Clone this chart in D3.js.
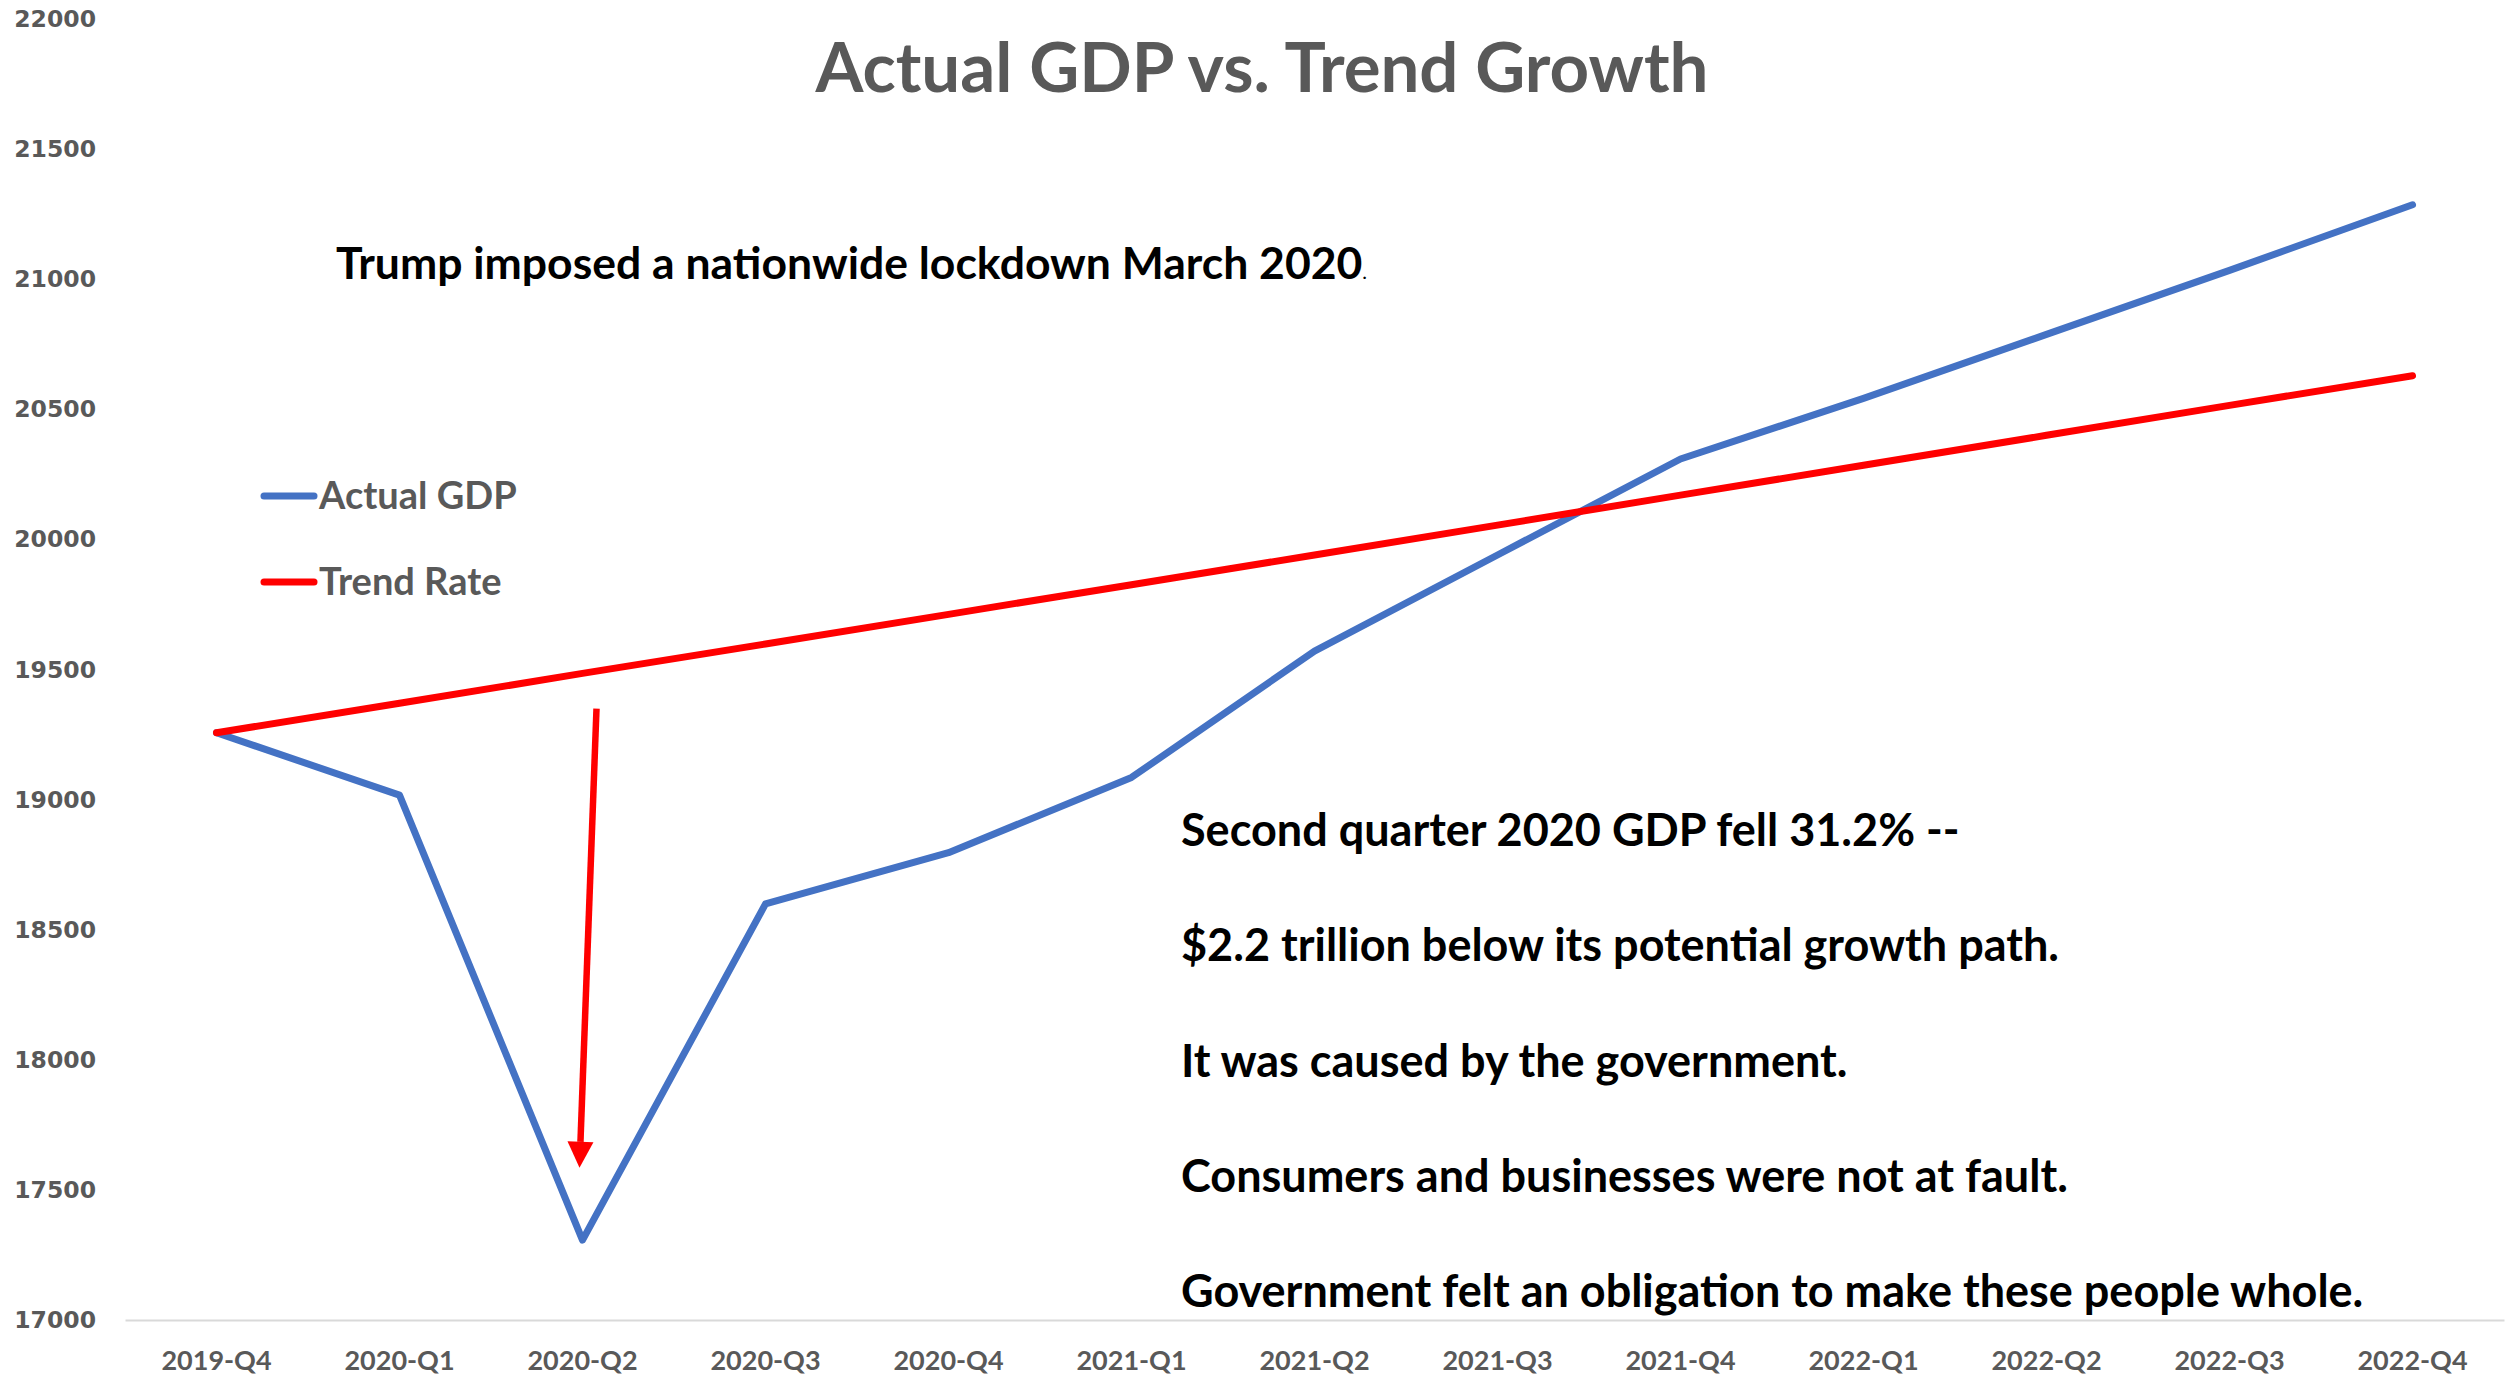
<!DOCTYPE html>
<html><head><meta charset="utf-8">
<script src="https://cdn.jsdelivr.net/npm/d3@7"></script>
<style>html,body{margin:0;padding:0;background:#fff;overflow:hidden}</style>
</head><body>
<svg id="chart" width="2509" height="1382"></svg>
<script>
const quarters = ["2019-Q4","2020-Q1","2020-Q2","2020-Q3","2020-Q4","2021-Q1","2021-Q2","2021-Q3","2021-Q4","2022-Q1","2022-Q2","2022-Q3","2022-Q4"];
const actualGDP = [19257,19017,17307,18599,18796,19085,19571,19940,20309,20542,20788,21034,21286];
const trendRate = [19257,19370,19485,19598,19712,19826,19940,20055,20170,20285,20400,20515,20629];
const yTicks = [17000,17500,18000,18500,19000,19500,20000,20500,21000,21500,22000];
const seriesNames = ["Actual GDP","Trend Rate"];
const seriesColors = ["#4472C4","#FF0000"];
const titleText = "Actual GDP vs. Trend Growth";
const lockdownNote = "Trump imposed a nationwide lockdown March 2020";
const notes = ["Second quarter 2020 GDP fell 31.2% --","$2.2 trillion below its potential growth path.","It was caused by the government.","Consumers and businesses were not at fault.","Government felt an obligation to make these people whole."];
const arrowFrom = 19350, arrowTo = 17585;

const svg = d3.select("#chart");
const FONT = "Lato, 'Open Sans', sans-serif";
const x = d3.scaleBand().domain(quarters).range([125, 2504]);
const y = d3.scaleLinear().domain([17000, 22000]).range([1320, 19]);
const cx = q => x(q) + x.bandwidth() / 2;

// y axis labels
const ya = svg.append("g").attr("transform", "translate(96,0)")
  .call(d3.axisLeft(y).tickValues(yTicks).tickSize(0).tickPadding(0).tickFormat(d3.format("d")));
ya.select(".domain").remove();
ya.selectAll("text").attr("fill", "#595959").style("font-family", "'DejaVu Sans', Verdana, sans-serif")
  .style("font-weight", "bold").style("font-size", "23.5px");

// x axis
const xa = svg.append("g").attr("transform", "translate(0," + y(17000) + ")")
  .call(d3.axisBottom(x).tickSize(0).tickPadding(31));
xa.select(".domain").attr("stroke", "#D9D9D9").attr("stroke-width", 2);
xa.selectAll("text").attr("fill", "#595959").style("font-family", FONT)
  .style("font-weight", "bold").style("font-size", "27px");

// lines
const line = d3.line().x((d, i) => cx(quarters[i])).y(d => y(d));
[actualGDP, trendRate].forEach((s, k) => {
  svg.append("path").datum(s).attr("d", line).attr("fill", "none")
    .attr("stroke", seriesColors[k]).attr("stroke-width", 7)
    .attr("stroke-linejoin", "round").attr("stroke-linecap", "round");
});

// title
svg.append("text").attr("x", 1262).attr("y", 92).attr("text-anchor", "middle")
  .attr("fill", "#595959").style("font-family", FONT).style("font-weight", "bold")
  .style("font-size", "68px").attr("textLength", 893).attr("lengthAdjust", "spacingAndGlyphs")
  .text(titleText);

// legend
seriesNames.forEach((n, k) => {
  const ly = 496 + k * 86;
  svg.append("line").attr("x1", 264).attr("x2", 314).attr("y1", ly).attr("y2", ly)
    .attr("stroke", seriesColors[k]).attr("stroke-width", 7).attr("stroke-linecap", "round");
  svg.append("text").attr("x", 319).attr("y", ly + 13).attr("fill", "#595959")
    .style("font-family", FONT).style("font-weight", "bold").style("font-size", "38px").text(n);
});

// lockdown note
const ln = svg.append("text").attr("x", 336).attr("y", 279).attr("fill", "#000")
  .style("font-family", FONT).style("font-weight", "bold").style("font-size", "44.5px");
ln.append("tspan").text(lockdownNote);
ln.append("tspan").style("font-size", "20px").style("font-weight", "normal").text(".");

// notes
notes.forEach((t, i) => {
  svg.append("text").attr("x", 1181).attr("y", 846 + i * 115.3).attr("fill", "#000")
    .style("font-family", FONT).style("font-weight", "bold").style("font-size", "45px").text(t);
});

// arrow
const ax0 = cx("2020-Q2") + 14, ax1 = cx("2020-Q2") - 3;
const yTop = y(arrowFrom), yTip = y(arrowTo);
const ang = Math.atan2(yTip - yTop, ax1 - ax0);
const headLen = 26, headW = 13;
const bx = ax1 - headLen * Math.cos(ang), by = yTip - headLen * Math.sin(ang);
svg.append("line").attr("x1", ax0).attr("y1", yTop).attr("x2", bx).attr("y2", by)
  .attr("stroke", "#FF0000").attr("stroke-width", 6.5);
const px = -Math.sin(ang), py = Math.cos(ang);
svg.append("path").attr("fill", "#FF0000")
  .attr("d", `M${ax1},${yTip}L${bx + px * headW},${by + py * headW}L${bx - px * headW},${by - py * headW}Z`);
</script>
</body></html>
